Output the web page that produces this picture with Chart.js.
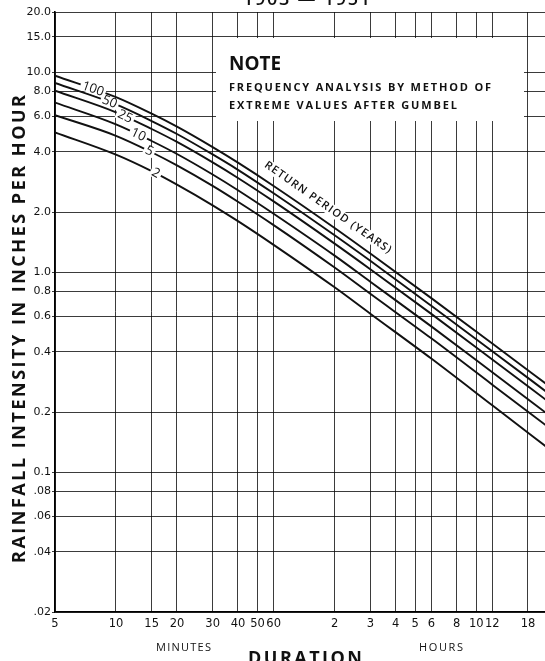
<!DOCTYPE html>
<html>
<head>
<meta charset="utf-8">
<script src="https://cdn.jsdelivr.net/npm/chart.js@4.4.1/dist/chart.umd.min.js"></script>
<style>
  html, body { margin: 0; padding: 0; background: #fff; overflow: hidden; }
  #wrap { width: 545px; height: 661px; }
</style>
</head>
<body>
<div id="wrap"><canvas id="idf" width="545" height="661"></canvas></div>
<script>
// duration in minutes, intensity in inches per hour
const durations = [5, 10, 15, 20, 30, 40, 60, 120, 180, 360, 720, 1440];
const returnPeriods = ['100', '50', '25', '10', '5', '2'];
const rain100 = [9.6, 7.5, 6.2, 5.34, 4.22, 3.53, 2.70, 1.665, 1.24, 0.742, 0.44, 0.26];
const rain50 = [8.84, 6.9, 5.7, 4.91, 3.88, 3.25, 2.48, 1.53, 1.14, 0.68, 0.403, 0.238];
const rain25 = [8.08, 6.3, 5.2, 4.48, 3.54, 2.96, 2.26, 1.39, 1.035, 0.619, 0.366, 0.216];
const rain10 = [7.05, 5.49, 4.53, 3.9, 3.08, 2.57, 1.96, 1.21, 0.896, 0.536, 0.316, 0.186];
const rain5 = [6.1, 4.81, 3.98, 3.42, 2.7, 2.25, 1.72, 1.055, 0.78, 0.467, 0.274, 0.161];
const rain2 = [5.0, 3.87, 3.2, 2.74, 2.16, 1.8, 1.37, 0.84, 0.62, 0.37, 0.216, 0.126];

const xTicks = [5, 10, 15, 20, 30, 40, 50, 60, 120, 180, 240, 300, 360, 480, 600, 720, 1080];
const xTickLabels = ['5', '10', '15', '20', '30', '40', '50', '60', '2', '3', '4', '5', '6', '8', '10', '12', '18'];
const yTicks = [20, 15, 10, 8, 6, 4, 2, 1, 0.8, 0.6, 0.4, 0.2, 0.1, 0.08, 0.06, 0.04, 0.02];
const yTickLabels = ['20.0', '15.0', '10.0', '8.0', '6.0', '4.0', '2.0', '1.0', '0.8', '0.6', '0.4', '0.2', '0.1', '.08', '.06', '.04', '.02'];

const series = [rain100, rain50, rain25, rain10, rain5, rain2];
const xMax = 1311;   // sheet is cut off a little before 24 hours

const INK = '#111';
const GRID = 'rgba(10,10,10,0.8)';
const SANS = '"DejaVu Sans", sans-serif';
const OPEN = '"Open Sans", sans-serif';

// draw text stretched/spaced to a given width, starting at x
function spaced(ctx, txt, x, y, w, font) {
    ctx.font = font;
    ctx.letterSpacing = '0px';
    const m = ctx.measureText(txt).width;
    const gap = (w - m) / Math.max(txt.length - 1, 1);
    ctx.save();
    ctx.translate(x, y);
    if (gap >= 0) {
        ctx.letterSpacing = gap + 'px';
    } else {
        ctx.scale(w / m, 1);
    }
    ctx.textAlign = 'left';
    ctx.fillText(txt, 0, 0);
    ctx.restore();
    ctx.letterSpacing = '0px';
}

// log-log reading of a curve at duration d
function valueAt(vals, d) {
    for (let i = 0; i < durations.length - 1; i++) {
        if (d <= durations[i + 1]) {
            const t = (Math.log(d) - Math.log(durations[i])) / (Math.log(durations[i + 1]) - Math.log(durations[i]));
            return Math.exp(Math.log(vals[i]) + t * (Math.log(vals[i + 1]) - Math.log(vals[i])));
        }
    }
    return vals[vals.length - 1];
}

const decor = {
    id: 'decor',
    beforeDraw(chart) {
        const ctx = chart.ctx;
        ctx.save();
        ctx.fillStyle = '#fff';
        ctx.fillRect(0, 0, chart.width, chart.height);
        ctx.restore();
    },
    beforeDatasetsDraw(chart) {
        const ctx = chart.ctx;
        ctx.save();
        // note panel knocks out the grid
        ctx.fillStyle = '#fff';
        ctx.fillRect(216, 38, 308, 83);
        ctx.fillStyle = INK;
        ctx.textBaseline = 'alphabetic';
        spaced(ctx, 'NOTE', 229, 70, 52, 'bold 19px ' + OPEN);
        spaced(ctx, 'FREQUENCY ANALYSIS BY METHOD OF', 229, 91, 262, 'bold 11px ' + OPEN);
        spaced(ctx, 'EXTREME VALUES AFTER GUMBEL', 229, 109, 228, 'bold 11px ' + OPEN);
        ctx.restore();
    },
    afterDatasetsDraw(chart) {
        const ctx = chart.ctx;
        const xs = chart.scales.x, ys = chart.scales.y;
        const labelAt = [7.7, 9.3, 11.1, 12.9, 14.6, 15.7];
        ctx.save();
        ctx.font = '13px ' + OPEN;
        ctx.textAlign = 'center';
        ctx.textBaseline = 'middle';
        series.forEach((vals, i) => {
            const d = labelAt[i];
            const px = xs.getPixelForValue(d), py = ys.getPixelForValue(valueAt(vals, d));
            const ax = xs.getPixelForValue(d * 1.15), ay = ys.getPixelForValue(valueAt(vals, d * 1.15));
            const ang = Math.atan2(ay - py, ax - px);
            const tw = ctx.measureText(returnPeriods[i]).width;
            ctx.save();
            ctx.translate(px, py);
            ctx.rotate(ang);
            ctx.fillStyle = '#fff';
            ctx.fillRect(-tw / 2 - 2, -5, tw + 4, 10);
            ctx.fillStyle = INK;
            ctx.fillText(returnPeriods[i], 0, 0);
            ctx.restore();
        });
        // caption above the 100-year curve
        const d = 102;
        const px = xs.getPixelForValue(d), py = ys.getPixelForValue(valueAt(rain100, d));
        const ax = xs.getPixelForValue(d * 1.3), ay = ys.getPixelForValue(valueAt(rain100, d * 1.3));
        const ang = Math.atan2(ay - py, ax - px);
        ctx.translate(px, py);
        ctx.rotate(ang);
        ctx.translate(0, -13);
        ctx.fillStyle = '#fff';
        ctx.fillRect(-78, -6, 156, 12);
        ctx.fillStyle = INK;
        spaced(ctx, 'RETURN PERIOD (YEARS)', -76, 0, 152, '600 11px ' + OPEN);
        ctx.restore();
    },
    afterDraw(chart) {
        const ctx = chart.ctx;
        ctx.save();
        ctx.fillStyle = INK;
        ctx.textBaseline = 'alphabetic';
        // title, cut off by the top edge of the sheet
        spaced(ctx, '1903 \u2014 1951', 243, 5, 127, '600 18px ' + OPEN);
        // y title
        ctx.save();
        ctx.translate(20, 329);
        ctx.rotate(-Math.PI / 2);
        ctx.textBaseline = 'middle';
        spaced(ctx, 'RAINFALL INTENSITY IN INCHES PER HOUR', -234, 0, 468, 'bold 18px ' + OPEN);
        ctx.restore();
        ctx.textBaseline = 'middle';
        spaced(ctx, 'MINUTES', 156, 648, 55, '11px ' + OPEN);
        spaced(ctx, 'HOURS', 419, 648, 44, '11px ' + OPEN);
        ctx.textBaseline = 'alphabetic';
        spaced(ctx, 'DURATION', 248, 664, 114, 'bold 18px ' + OPEN);
        ctx.restore();
    }
};

const ctx = document.getElementById('idf').getContext('2d');
new Chart(ctx, {
    type: 'line',
    data: {
        datasets: series.map((vals, i) => ({
            label: returnPeriods[i],
            data: durations.map((d, j) => ({ x: d, y: vals[j] })),
            borderColor: INK,
            borderWidth: 1.9,
            pointRadius: 0,
            fill: false,
            cubicInterpolationMode: 'monotone'
        }))
    },
    options: {
        responsive: false,
        animation: false,
        devicePixelRatio: 1,
        layout: { padding: { top: 12, left: 0, right: 0, bottom: 0 } },
        plugins: {
            legend: { display: false },
            tooltip: { enabled: false }
        },
        scales: {
            x: {
                type: 'logarithmic',
                min: 5,
                max: xMax,
                afterBuildTicks: s => { s.ticks = xTicks.map(v => ({ value: v })); },
                afterFit: s => { s.height = 49; },
                grid: { color: GRID, lineWidth: 1, drawTicks: false },
                border: { color: '#000', width: 1.6 },
                ticks: {
                    autoSkip: false,
                    maxRotation: 0,
                    padding: 5,
                    color: INK,
                    font: { family: SANS, size: 11.5 },
                    callback: (v, i) => xTickLabels[i]
                }
            },
            y: {
                type: 'logarithmic',
                min: 0.02,
                max: 20,
                afterBuildTicks: s => { s.ticks = yTicks.map(v => ({ value: v })); },
                afterFit: s => { s.width = 55; },
                grid: { color: GRID, lineWidth: 1, tickLength: 3 },
                border: { color: '#000', width: 1.6 },
                ticks: {
                    autoSkip: false,
                    padding: 1,
                    color: INK,
                    font: { family: SANS, size: 11 },
                    callback: (v, i) => yTickLabels[i]
                }
            }
        }
    },
    plugins: [decor]
});
</script>
</body>
</html>
